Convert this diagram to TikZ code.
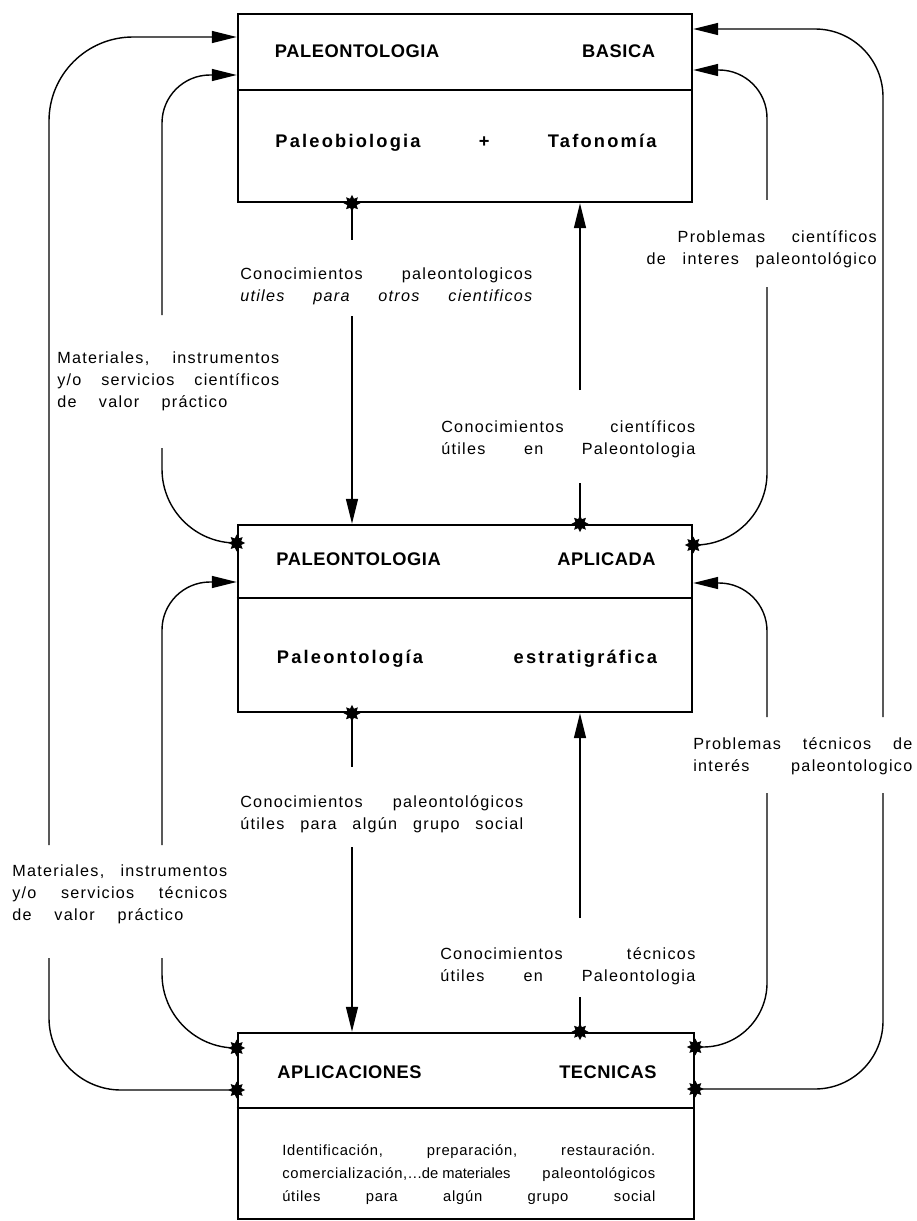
\documentclass[tikz,border=0pt]{standalone}
\usepackage{fontspec}
\setmainfont{Liberation Sans}
\newfontfamily\plainfont{Liberation Sans}
\newfontfamily\lblfont{Liberation Sans}[LetterSpace=8]
\newfontfamily\bodyfont{Liberation Sans}[LetterSpace=5]
\newfontfamily\subfont{Liberation Sans}[LetterSpace=12]
\newfontfamily\ttlfont{Liberation Sans}[LetterSpace=3]
\newcommand{\spread}[2]{\makebox[#1][s]{#2}}
\usetikzlibrary{shapes.geometric,arrows.meta,positioning,calc}

\begin{document}
\begin{tikzpicture}[x=0.025cm, y=-0.025cm]
    \tikzstyle{panel} = [rectangle, draw, line width=1.8pt, minimum width=11.35cm, minimum height=4.7cm, inner sep=0pt]
    \tikzstyle{ttl} = [anchor=base, inner sep=0pt, font=\ttlfont\fontsize{13}{15}\selectfont\bfseries]
    \tikzstyle{sub} = [anchor=base, inner sep=0pt, font=\subfont\fontsize{13}{15}\selectfont\bfseries]
    \tikzstyle{lbl} = [anchor=base west, inner sep=0pt, align=left, font=\lblfont\fontsize{11.5}{15.6}\selectfont]
    \tikzstyle{link} = [line width=1pt]
    \tikzstyle{tip} = [-{Triangle[length=0.62cm,width=0.3cm]}]
    \tikzstyle{splat} = [star, star points=8, star point ratio=1.7, fill=black, sharp corners, inner sep=0pt, minimum size=0.42cm]

    \fill[white] (0,0) rectangle (916,1221);
    \useasboundingbox (0,0) rectangle (916,1221);

    \node [panel] (basica) at (465,108) {};
    \node [panel, minimum height=4.675cm] (aplicada) at (465,618.5) {};
    \node [panel, minimum width=11.4cm, minimum height=4.65cm] (tecnicas) at (466,1126) {};

    \path [draw, line width=1.8pt] (basica.west |- 0,90) -- (basica.east |- 0,90);
    \path [draw, line width=1.8pt] (aplicada.west |- 0,598) -- (aplicada.east |- 0,598);
    \path [draw, line width=1.8pt] (tecnicas.west |- 0,1108) -- (tecnicas.east |- 0,1108);

    \node [ttl] (basicaA) at (465,58) {\spread{9.5cm}{PALEONTOLOGIA BASICA}};
    \node [sub] (basicaB) at (466,148) {\spread{9.525cm}{Paleobiologia + Tafonomía}};
    \node [ttl] (aplicadaA) at (466,565) {\spread{9.475cm}{PALEONTOLOGIA APLICADA}};
    \node [sub] (aplicadaB) at (467,663) {\spread{9.5cm}{Paleontología estratigráfica}};
    \node [ttl] (tecnicasA) at (467,1078) {\spread{9.475cm}{APLICACIONES TECNICAS}};
    \node [lbl, font=\bodyfont\fontsize{10.5}{16.3}\selectfont] (tecnicasB) at (282,1201) {\spread{9.325cm}{Identificación, preparación, restauración.}\\ \spread{9.325cm}{comercialización,...\mbox{\plainfont de materiales} paleontológicos}\\ \spread{9.325cm}{útiles para algún grupo social}};

    \node [lbl] (lblA) at (240,301) {\spread{7.3cm}{Conocimientos paleontologicos}\\ \spread{7.3cm}{\itshape utiles para otros cientificos}};
    \node [lbl] (lblB) at (441,454) {\spread{6.35cm}{Conocimientos científicos}\\ \spread{6.35cm}{útiles en Paleontologia}};
    \node [lbl] (lblC) at (240,829) {\spread{7.075cm}{Conocimientos paleontológicos}\\ \spread{7.075cm}{útiles para algún grupo social}};
    \node [lbl] (lblD) at (440,981) {\spread{6.375cm}{Conocimientos técnicos}\\ \spread{6.375cm}{útiles en Paleontologia}};
    \node [lbl] (matCien) at (57,407) {\spread{5.55cm}{Materiales, instrumentos}\\ \spread{5.55cm}{y/o servicios científicos}\\ \spread{4.25cm}{de valor práctico}};
    \node [lbl] (matTec) at (12,920) {\spread{5.375cm}{Materiales, instrumentos}\\ \spread{5.375cm}{y/o servicios técnicos}\\ \spread{4.275cm}{de valor práctico}};
    \node [lbl, anchor=base east, align=right] (probCien) at (877,264) {\spread{4.975cm}{Problemas científicos}\\ \spread{5.75cm}{de interes paleontológico}};
    \node [lbl] (probTec) at (693,771) {\spread{5.475cm}{Problemas técnicos de}\\ \spread{5.475cm}{interés paleontologico}};

    \coordinate (oLa) at (49,845);   \coordinate (oLb) at (49,958);
    \coordinate (iLa) at (162,845);  \coordinate (iLb) at (162,958);
    \coordinate (iUa) at (162,315);  \coordinate (iUb) at (162,448);
    \coordinate (oRa) at (883,717);  \coordinate (oRb) at (883,793);
    \coordinate (iRa) at (767,717);  \coordinate (iRb) at (767,793);
    \coordinate (iSa) at (767,200);  \coordinate (iSb) at (767,287);
    \coordinate (vAa) at (352,240);  \coordinate (vAb) at (352,316);
    \coordinate (vBa) at (580,390);  \coordinate (vBb) at (580,483);
    \coordinate (vCa) at (352,767);  \coordinate (vCb) at (352,847);
    \coordinate (vDa) at (580,918);  \coordinate (vDb) at (580,997);

    \path [draw, link] (basica.south -| vAa) node [splat] (sA) {} -- (vAa);
    \path [draw, link, tip] (vAb) -- (aplicada.north -| vAb);
    \path [draw, link, tip] (vBa) -- (basica.south -| vBa);
    \path [draw, link] (aplicada.north -| vBb) node [splat] (sB) {} -- (vBb);
    \path [draw, link] (aplicada.south -| vCa) node [splat] (sC) {} -- (vCa);
    \path [draw, link, tip] (vCb) -- (tecnicas.north -| vCb);
    \path [draw, link, tip] (vDa) -- (aplicada.south -| vDa);
    \path [draw, link] (tecnicas.north -| vDb) node [splat] (sD) {} -- (vDb);

    \path [draw, link, rounded corners=1.8cm] (tecnicas.west |- 0,1090) node [splat] (sE) {} -| (oLb);
    \path [draw, link, tip, rounded corners=2.1cm] (oLa) |- (basica.west |- 0,37);
    \path [draw, link, rounded corners=1.85cm] (tecnicas.west |- 0,1048) node [splat] (sF) {} -| (iLb);
    \path [draw, link, tip, rounded corners=1.2cm] (iLa) |- (aplicada.west |- 0,582);
    \path [draw, link, rounded corners=1.85cm] (aplicada.west |- 0,543) node [splat] (sG) {} -| (iUb);
    \path [draw, link, tip, rounded corners=1.2cm] (iUa) |- (basica.west |- 0,75);

    \path [draw, link, rounded corners=1.7cm] (tecnicas.east |- 0,1089) node [splat] (sH) {} -| (oRb);
    \path [draw, link, tip, rounded corners=1.7cm] (oRa) |- (basica.east |- 0,29);
    \path [draw, link, rounded corners=1.6cm] (tecnicas.east |- 0,1047) node [splat] (sI) {} -| (iRb);
    \path [draw, link, tip, rounded corners=1.2cm] (iRa) |- (aplicada.east |- 0,583);
    \path [draw, link, rounded corners=1.8cm] (aplicada.east |- 0,545) node [splat] (sJ) {} -| (iSb);
    \path [draw, link, tip, rounded corners=1.2cm] (iSa) |- (basica.east |- 0,70);
\end{tikzpicture}
\end{document}
